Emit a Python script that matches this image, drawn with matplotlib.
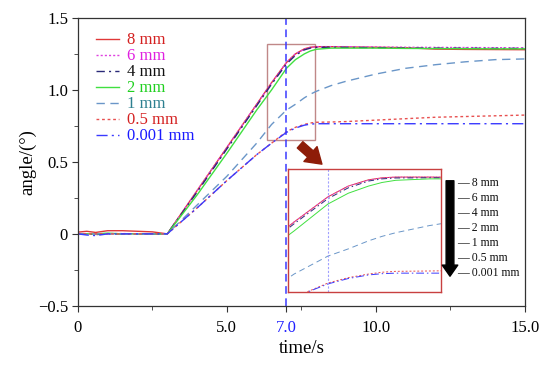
import matplotlib
matplotlib.use("Agg")
import matplotlib.pyplot as plt
from matplotlib.patches import Rectangle, FancyArrowPatch
from matplotlib.ticker import MultipleLocator

plt.rcParams['font.family'] = ['Liberation Serif', 'DejaVu Serif']

# time axis (s)
t = [0, 0.3, 0.6, 1.0, 1.5, 2.0, 2.5, 3.0, 4.0, 5.0, 6.0, 6.5, 7.0, 7.3, 7.6, 7.8,
     8.0, 8.5, 9.0, 10.0, 11.0, 12.0, 13.0, 14.0, 15.0]

# angle (deg) for each gap size
a_8 = [0.012, 0.018, 0.010, 0.022, 0.022, 0.018, 0.014, 0.0, 0.30, 0.60, 0.90, 1.05, 1.19,
       1.25, 1.285, 1.296, 1.30, 1.30, 1.298, 1.296, 1.293, 1.283, 1.281, 1.280, 1.279]
a_6 = [0.0, 0.0, 0.0, 0.002, 0.002, 0.0, 0.0, 0.0, 0.30, 0.60, 0.90, 1.05, 1.19,
       1.25, 1.283, 1.295, 1.30, 1.30, 1.30, 1.298, 1.296, 1.295, 1.294, 1.293, 1.292]
a_4 = [0.0, 0.0, -0.005, 0.0, 0.0, 0.0, 0.0, 0.0, 0.29, 0.59, 0.89, 1.04, 1.18,
       1.24, 1.278, 1.29, 1.295, 1.296, 1.295, 1.293, 1.29, 1.29, 1.289, 1.288, 1.288]
a_2 = [0.0, 0.0, 0.0, 0.005, 0.0, 0.0, 0.0, 0.0, 0.27, 0.56, 0.86, 1.0, 1.15,
       1.21, 1.25, 1.27, 1.282, 1.29, 1.29, 1.29, 1.288, 1.287, 1.286, 1.285, 1.285]
a_1 = [0.0, 0.0, 0.0, 0.0, 0.0, 0.0, 0.0, 0.0, 0.2, 0.4, 0.63, 0.76, 0.86,
       0.90, 0.945, 0.97, 0.99, 1.03, 1.06, 1.11, 1.15, 1.175, 1.195, 1.21, 1.215]
a_05 = [0.0, 0.0, 0.0, 0.0, 0.0, 0.0, 0.0, 0.0, 0.18, 0.37, 0.55, 0.63, 0.71,
        0.74, 0.76, 0.77, 0.775, 0.777, 0.78, 0.79, 0.80, 0.81, 0.815, 0.82, 0.825]
a_0001 = [0.0, -0.008, -0.012, 0.0, 0.0, 0.0, 0.0, 0.0, 0.18, 0.37, 0.55, 0.63, 0.705,
          0.735, 0.755, 0.762, 0.765, 0.765, 0.765, 0.765, 0.765, 0.765, 0.765, 0.765, 0.765]

labels = ['8 mm', '6 mm', '4 mm', '2 mm', '1 mm', '0.5 mm', '0.001 mm']
series = [a_8, a_6, a_4, a_2, a_1, a_05, a_0001]
colors = ['#e03838', '#e040e0', '#2a2a78', '#40e040', '#6a96c8', '#e85050', '#3a3aff']
styles = ['-', (0, (1.5, 1.5)), (0, (6, 3, 1.5, 3)), '-', (0, (6, 4)), (0, (2, 2)), (0, (8, 3, 1.5, 3))]
text_colors = ['#d42020', '#e020e0', '#111111', '#20d020', '#2e8090', '#d42020', '#1a1aff']

fig = plt.figure(figsize=(5.48, 3.65), dpi=100)
ax = fig.add_axes([0.142, 0.162, 0.816, 0.789])

for y, c, ls, lab in zip(series, colors, styles, labels):
    ax.plot(t, y, color=c, linestyle=ls, linewidth=1.0, label=lab)

ax.axvline(7.0, color='#3a3aff', linestyle=(0, (5, 3)), linewidth=1.1)

ax.set_xlim(0, 15)
ax.set_ylim(-0.5, 1.5)
ax.set_xticks([0, 5, 7, 10, 15])
ax.set_xticklabels(['0', '5.0', '7.0', '10.0', '15.0'])
ax.get_xticklabels()[2].set_color('#2020ff')
ax.xaxis.set_minor_locator(MultipleLocator(2.5))
ax.set_yticks([-0.5, 0, 0.5, 1.0, 1.5])
ax.set_yticklabels(['\u22120.5', '0', '0.5', '1.0', '1.5'])
ax.yaxis.set_minor_locator(MultipleLocator(0.25))
ax.tick_params(which='both', direction='out', labelsize=12, color='#333333')
ax.tick_params(axis='x', which='both', pad=6)
ax.tick_params(axis='y', which='both', pad=3)
ax.tick_params(which='major', length=4)
ax.tick_params(which='minor', length=3)
for s in ax.spines.values():
    s.set_color('#333333')
    s.set_linewidth(0.9)
ax.set_xlabel('time/s', fontsize=13.5, labelpad=3)
ax.set_ylabel('angle/(°)', fontsize=13.5, labelpad=1)

leg = ax.legend(loc='upper left', frameon=False, fontsize=12, handlelength=1.35,
                handletextpad=0.5, labelspacing=0.0, borderaxespad=0.3,
                bbox_to_anchor=(0.015, 0.99))
for txt, tc in zip(leg.get_texts(), text_colors):
    txt.set_color(tc)

# zoomed region box
x0, x1, y0, y1 = 6.34, 7.95, 0.65, 1.32
ax.add_patch(Rectangle((x0, y0), x1 - x0, y1 - y0, fill=False, edgecolor='#c08888', linewidth=1.0))

# red arrow towards inset
fig.patches.append(FancyArrowPatch(
    (298 / 548, 1 - 143 / 365), (324 / 548, 1 - 166 / 365), transform=fig.transFigure,
    arrowstyle='simple,head_width=1.3,head_length=1.0,tail_width=0.55',
    mutation_scale=11, color='#8e1c08'))

# inset
ins = fig.add_axes([288 / 548, 1 - 292 / 365, 153 / 548, 123 / 365])
for y, c, ls in zip(series, colors, styles):
    ins.plot(t, y, color=c, linestyle=ls, linewidth=0.7)
ins.axvline(7.0, color='#a0a0ff', linestyle=(0, (2, 1.5)), linewidth=0.8)
ins.set_xlim(6.41, 8.67)
ins.set_ylim(0.66, 1.345)
ins.set_xticks([])
ins.set_yticks([])
for s in ins.spines.values():
    s.set_color('#c84040')
    s.set_linewidth(1.0)

# black arrow and inset labels
fig.patches.append(FancyArrowPatch(
    (450 / 548, 1 - 178 / 365), (450 / 548, 1 - 279 / 365), transform=fig.transFigure,
    arrowstyle='simple,head_width=1.4,head_length=1.0,tail_width=0.7',
    mutation_scale=8, color='black'))
for i, lab in enumerate(labels):
    yy = 1 - (183 + i * 15) / 365
    fig.text(457 / 548, yy, '\u2014 ' + lab, fontsize=8.5, va='center', ha='left', color='#111111')

fig.savefig('out.png', dpi=100)
